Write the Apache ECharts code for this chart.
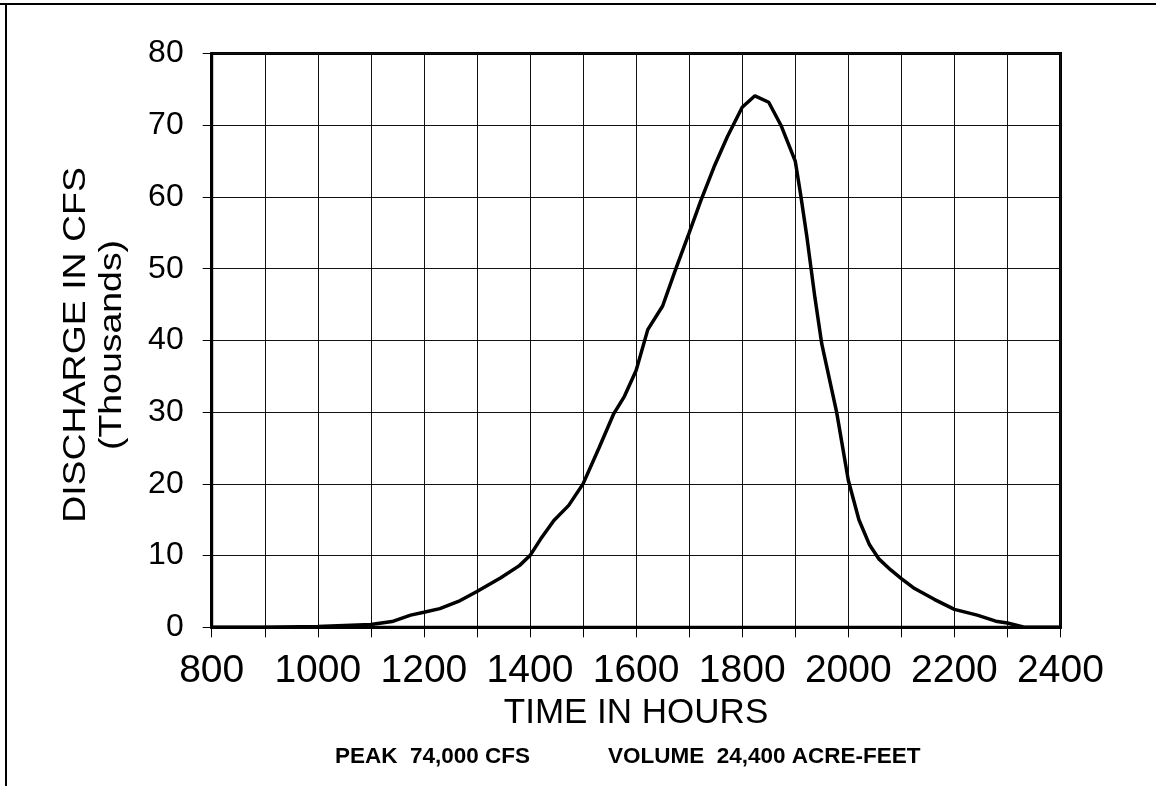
<!DOCTYPE html>
<html><head><meta charset="utf-8">
<script src="https://cdn.jsdelivr.net/npm/echarts/dist/echarts.min.js"></script>
<style>html,body{margin:0;padding:0;background:#fff}#c{width:1156px;height:786px}</style>
</head><body><div id="c"></div>
<script>
// Time in hours
const hours = [800, 900, 1000, 1050, 1100, 1140, 1175, 1200, 1230, 1265, 1300, 1345, 1380, 1400, 1420, 1445, 1473, 1500, 1530, 1558, 1578, 1600, 1622, 1650, 1675, 1700, 1722, 1747, 1772, 1800, 1824, 1850, 1873, 1900, 1910, 1922, 1937, 1950, 1978, 2000, 2020, 2040, 2058, 2080, 2100, 2125, 2162, 2200, 2243, 2278, 2300, 2330, 2400];
// Discharge in thousands of CFS
const discharge = [0, 0, 0.1, 0.25, 0.4, 0.8, 1.7, 2.1, 2.6, 3.6, 5.0, 6.9, 8.6, 10.0, 12.3, 14.9, 17.0, 20.0, 25.0, 29.8, 32.2, 35.8, 41.5, 44.8, 50.0, 55.0, 59.5, 64.2, 68.4, 72.5, 74.1, 73.2, 70.0, 65.0, 60.4, 54.4, 46.0, 39.5, 30.0, 20.5, 15.0, 11.5, 9.5, 8.0, 6.8, 5.4, 3.9, 2.5, 1.7, 0.85, 0.6, 0.05, 0];
const yTitle = ['DISCHARGE IN CFS', '(Thousands)'];
const xTitle = 'TIME IN HOURS';
const notes = ['PEAK  74,000 CFS', 'VOLUME  24,400 ACRE-FEET'];

const FONT = '"Liberation Sans", Arial, sans-serif';
const chart = echarts.init(document.getElementById('c'), null, {renderer: 'canvas'});
chart.setOption({
  animation: false,
  backgroundColor: '#fff',
  grid: {left: 211.7, right: 95.5, top: 53.5, bottom: 158.7, show: true, borderColor: '#000', borderWidth: 3, backgroundColor: 'transparent'},
  xAxis: {
    type: 'value', min: 800, max: 2400, interval: 100,
    axisLine: {show: true, lineStyle: {color: '#000', width: 3}},
    axisTick: {show: true, length: 10, lineStyle: {color: '#000', width: 1}},
    axisLabel: {color: '#000', fontSize: 39, fontFamily: FONT, margin: 24, showMinLabel: true, showMaxLabel: true,
      formatter: v => (v % 200 === 0 ? String(v) : '')},
    splitLine: {show: true, lineStyle: {color: '#111', width: 1}}
  },
  yAxis: {
    type: 'value', min: 0, max: 80, interval: 10,
    axisLine: {show: true, lineStyle: {color: '#000', width: 3}},
    axisTick: {show: true, length: 9, lineStyle: {color: '#000', width: 1}},
    axisLabel: {color: '#000', fontSize: 32, fontFamily: FONT, margin: 28},
    splitLine: {show: true, lineStyle: {color: '#111', width: 1}}
  },
  series: [{
    type: 'line', showSymbol: false, smooth: false,
    data: hours.map((h, i) => [h, discharge[i]]),
    lineStyle: {color: '#000', width: 3.5}
  }],
  graphic: [
    {type: 'line', shape: {x1: 0, y1: 4, x2: 1156, y2: 4}, style: {stroke: '#000', lineWidth: 2}},
    {type: 'line', shape: {x1: 6, y1: 4, x2: 6, y2: 786}, style: {stroke: '#000', lineWidth: 2}},
    {type: 'text', x: 94, y: 345, rotation: Math.PI / 2, scaleX: 1.17, scaleY: 1,
      style: {text: yTitle.join('\n'), fill: '#000', font: '32px ' + FONT, align: 'center', verticalAlign: 'middle', lineHeight: 36}},
    {type: 'text', x: 636, y: 713, style: {text: xTitle, fill: '#000', font: '35px ' + FONT, align: 'center', verticalAlign: 'middle'}},
    {type: 'text', x: 335, y: 757, style: {text: notes[0], fill: '#000', font: 'bold 22.5px ' + FONT, align: 'left', verticalAlign: 'middle'}},
    {type: 'text', x: 608, y: 757, style: {text: notes[1], fill: '#000', font: 'bold 22.5px ' + FONT, align: 'left', verticalAlign: 'middle'}}
  ]
});
</script></body></html>
